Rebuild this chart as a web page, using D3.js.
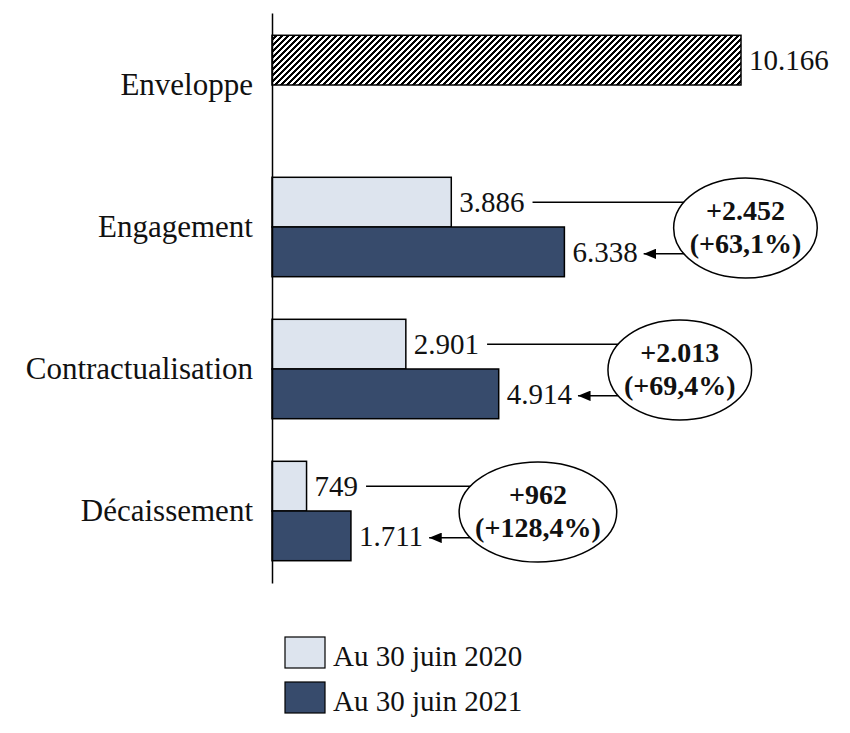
<!DOCTYPE html>
<html>
<head>
<meta charset="utf-8">
<script src="https://cdn.jsdelivr.net/npm/d3@7"></script>
<style>
  body { margin: 0; background: #fff; }
  text { font-family: 'Liberation Serif', 'DejaVu Serif', serif; fill: #111; }
</style>
</head>
<body>
<script>
// data
const categories = ['Enveloppe', 'Engagement', 'Contractualisation', 'Décaissement']
const values2020 = [10166, 3886, 2901, 749]   // first slot (Enveloppe sits here, hatched)
const values2021 = [null, 6338, 4914, 1711]
const seriesLabels = ['Au 30 juin 2020', 'Au 30 juin 2021']

const width = 850
const height = 733
const colors = {light: '#dde4ee', dark: '#374b6c'}

const fr = d3.formatLocale({decimal: ',', thousands: '.', grouping: [3], currency: ['', ' €']})
const fmtInt = fr.format(',d')
const fmtDelta = fr.format('+,d')
const fmtPct = fr.format('+.1%')

const svg = d3.select('body').append('svg')
  .attr('width', width)
  .attr('height', height)

// hatch pattern for the envelope bar ("/" stripes, 6px apart)
const defs = svg.append('defs')
defs.append('pattern')
  .attr('id', 'hatch')
  .attr('patternUnits', 'userSpaceOnUse')
  .attr('width', 6)
  .attr('height', 6)
  .append('path')
  .attr('d', 'M-1,1 L1,-1 M0,6 L6,0 M5,7 L7,5')
  .attr('stroke', '#000')
  .attr('stroke-width', 2.1)
  .attr('shape-rendering', 'crispEdges')

defs.append('marker')
  .attr('id', 'arrow')
  .attr('viewBox', '0 0 12 10')
  .attr('refX', 12).attr('refY', 5)
  .attr('markerWidth', 8.5).attr('markerHeight', 7)
  .attr('markerUnits', 'strokeWidth')
  .attr('orient', 'auto')
  .append('path')
  .attr('d', 'M0,0 L12,5 L0,10 z')
  .attr('fill', '#000')

// scales
const x = d3.scaleLinear()
  .domain([0, d3.max(values2020)])
  .range([272, 741])

const y = d3.scaleBand()
  .domain(categories)
  .range([13, 583])
  .paddingInner(0.3)
  .paddingOuter(0.157)

const ySub = d3.scaleBand()
  .domain([0, 1])
  .range([0, y.bandwidth()])

const rows = categories.map((c, i) => ({cat: c, i: i, v0: values2020[i], v1: values2021[i]}))

// bars
const bars = []
rows.forEach(r => {
  bars.push({cat: r.cat, s: 0, v: r.v0, fill: r.i === 0 ? 'url(#hatch)' : colors.light})
  if (r.v1 != null) bars.push({cat: r.cat, s: 1, v: r.v1, fill: colors.dark})
})

svg.append('g').selectAll('rect')
  .data(bars)
  .join('rect')
  .attr('x', x(0))
  .attr('y', d => y(d.cat) + ySub(d.s))
  .attr('width', d => x(d.v) - x(0))
  .attr('height', ySub.bandwidth())
  .attr('fill', d => d.fill)
  .attr('stroke', '#000')
  .attr('stroke-width', 1.5)

// value labels
const valueLabels = svg.append('g').selectAll('text')
  .data(bars)
  .join('text')
  .attr('x', d => x(d.v) + 8)
  .attr('y', d => y(d.cat) + ySub(d.s) + ySub.bandwidth() / 2 + 10)
  .attr('font-size', 29)
  .text(d => fmtInt(d.v))

// axis line with category labels
const yAxis = d3.axisLeft(y).tickSize(0).tickPadding(19)
const gAxis = svg.append('g')
  .attr('transform', 'translate(' + x(0) + ',0)')
  .call(yAxis)
gAxis.select('.domain').attr('stroke', '#000').attr('stroke-width', 1.5)
gAxis.selectAll('text')
  .attr('font-family', "'Liberation Serif', serif")
  .attr('font-size', 31)
  .attr('fill', '#111')
  .attr('dy', '0.32em')

// change callouts
const nodes = valueLabels.nodes()
rows.filter(r => r.v1 != null).forEach(r => {
  const lab0 = nodes.find(n => d3.select(n).datum().cat === r.cat && d3.select(n).datum().s === 0)
  const lab1 = nodes.find(n => d3.select(n).datum().cat === r.cat && d3.select(n).datum().s === 1)
  const end0 = x(r.v0) + 8 + lab0.getComputedTextLength()
  const end1 = x(r.v1) + 8 + lab1.getComputedTextLength()
  const cy = y(r.cat) + y.bandwidth() / 2 + 1
  const yTop = y(r.cat) + ySub(0) + ySub.bandwidth() / 2
  const yBot = y(r.cat) + ySub(1) + ySub.bandwidth() / 2 + 2
  const g = svg.append('g')

  const t1 = g.append('text')
    .attr('text-anchor', 'middle')
    .attr('font-weight', 'bold')
    .attr('font-size', 28)
    .attr('y', cy - 8)
    .text(fmtDelta(r.v1 - r.v0))
  const t2 = g.append('text')
    .attr('text-anchor', 'middle')
    .attr('font-weight', 'bold')
    .attr('font-size', 28)
    .attr('y', cy + 25)
    .text('(' + fmtPct((r.v1 - r.v0) / r.v0) + ')')
  const tw = Math.max(t1.node().getComputedTextLength(), t2.node().getComputedTextLength())
  const rx = tw / 2 + 16
  const cx = end1 + 8 + 28 + rx

  t1.attr('x', cx)
  t2.attr('x', cx)

  g.insert('line', 'text')
    .attr('x1', end0 + 8).attr('y1', yTop)
    .attr('x2', cx).attr('y2', yTop)
    .attr('stroke', '#000').attr('stroke-width', 1.5)
  g.insert('line', 'text')
    .attr('x1', cx).attr('y1', yBot)
    .attr('x2', end1 + 6).attr('y2', yBot)
    .attr('stroke', '#000').attr('stroke-width', 1.5)
    .attr('marker-end', 'url(#arrow)')
  g.insert('ellipse', 'text')
    .attr('cx', cx).attr('cy', cy)
    .attr('rx', rx).attr('ry', 50)
    .attr('fill', '#fff')
    .attr('stroke', '#000')
    .attr('stroke-width', 1.5)
})

// legend
const legend = svg.append('g')
  .attr('transform', 'translate(285,637)')
const li = legend.selectAll('g')
  .data(seriesLabels)
  .join('g')
  .attr('transform', (d, i) => 'translate(0,' + i * 45 + ')')
li.append('rect')
  .attr('width', 40)
  .attr('height', 31)
  .attr('fill', (d, i) => i === 0 ? colors.light : colors.dark)
  .attr('stroke', '#000')
  .attr('stroke-width', 1.2)
li.append('text')
  .attr('x', 48)
  .attr('y', 29)
  .attr('font-size', 29)
  .text(d => d)
</script>
</body>
</html>
